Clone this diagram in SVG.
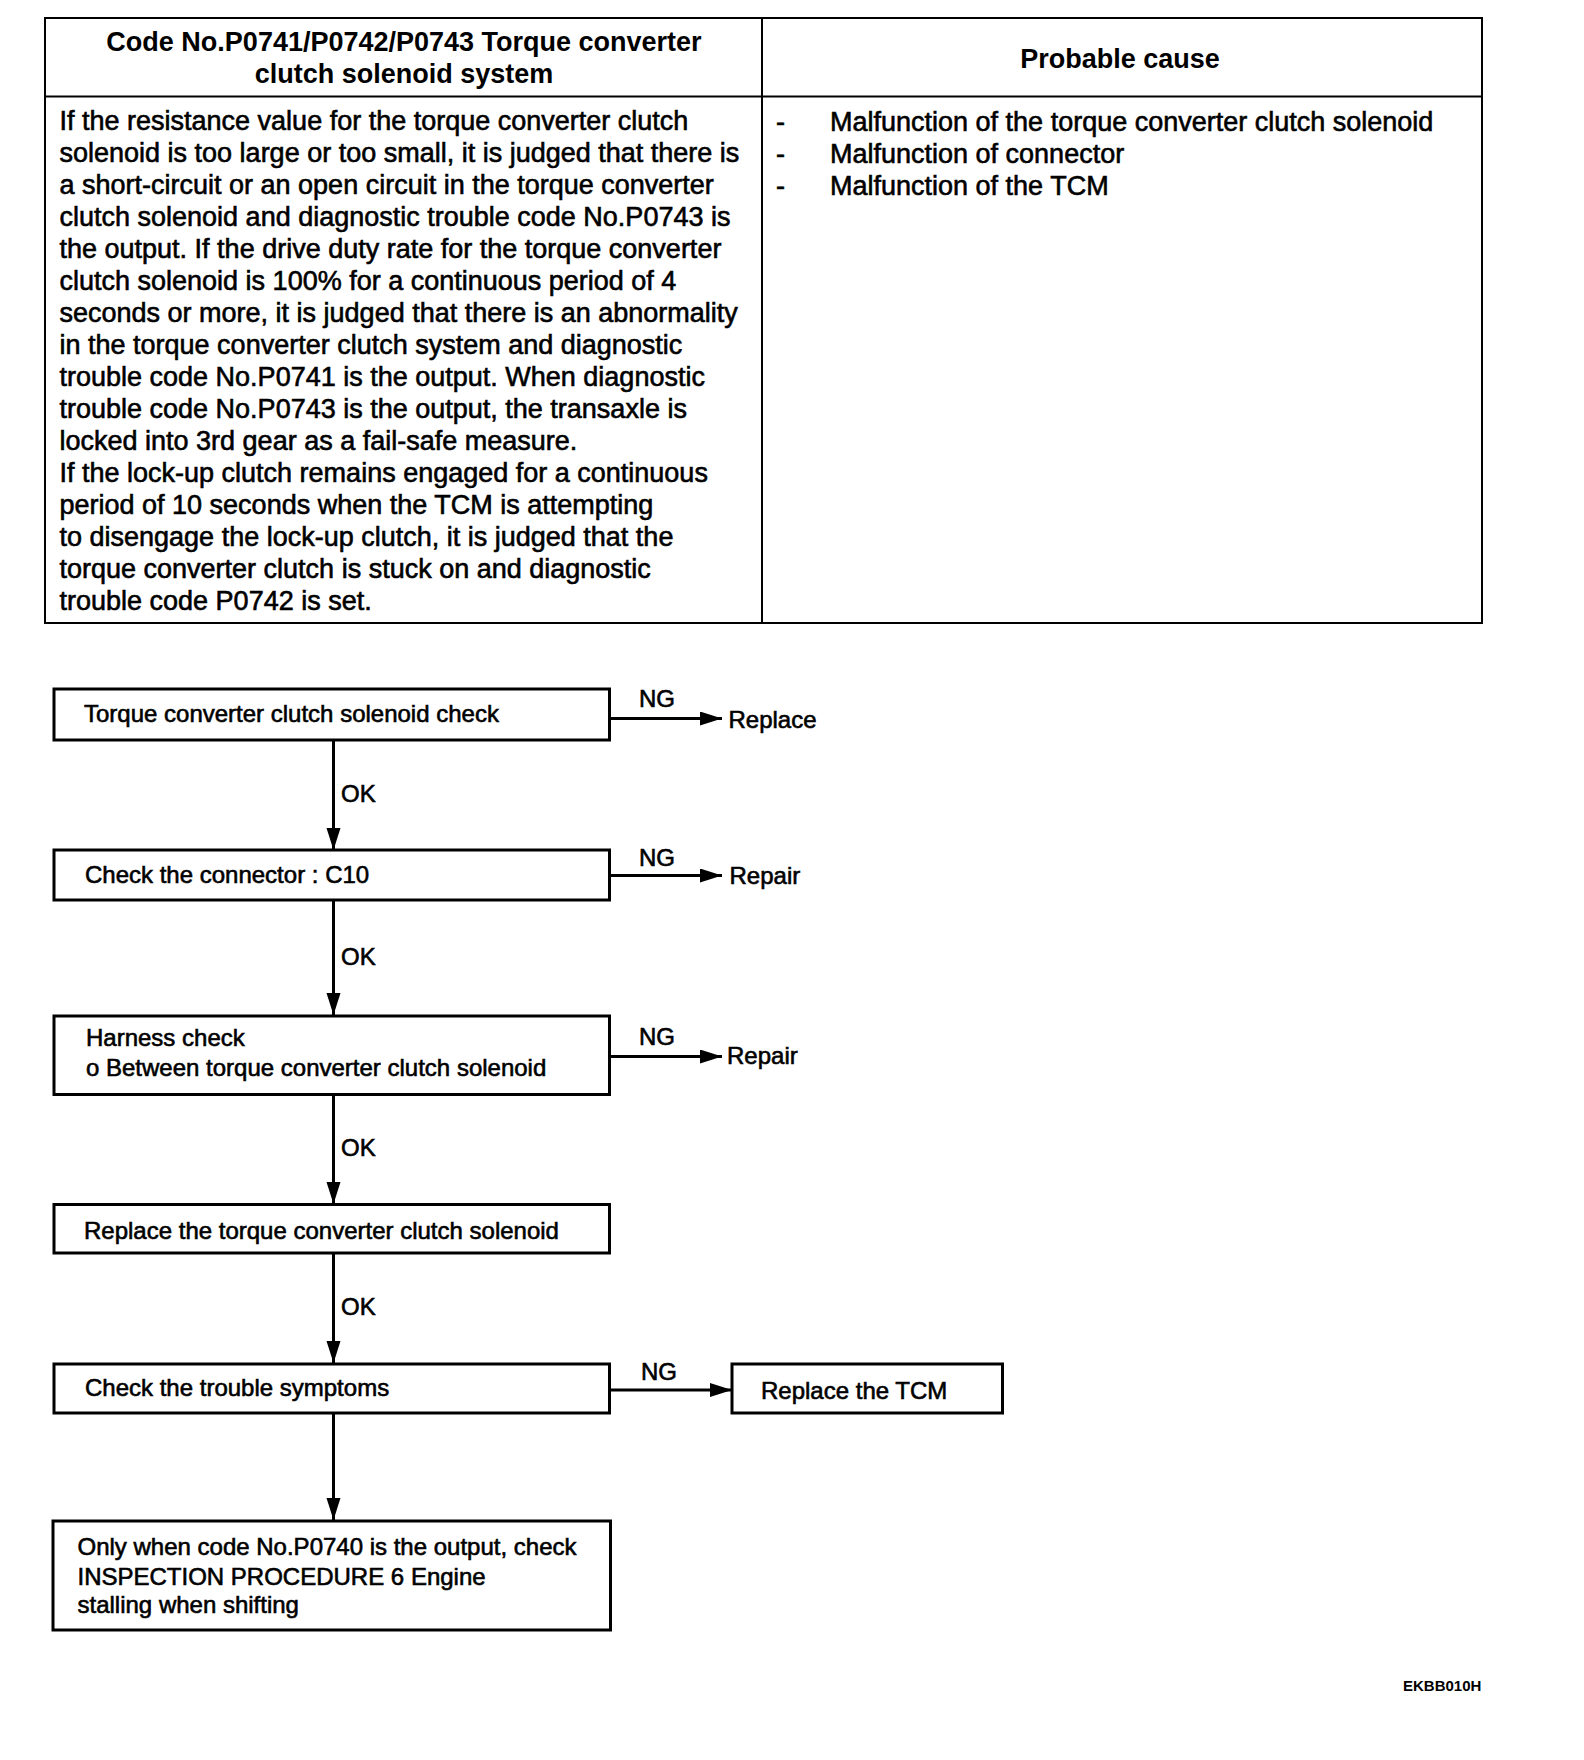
<svg xmlns="http://www.w3.org/2000/svg" width="1584" height="1760" viewBox="0 0 1584 1760">
<style>
text{font-family:"Liberation Sans",Arial,sans-serif;fill:#000}
.hd{font-size:27px;font-weight:bold}
.bd{font-size:27px;stroke:#000;stroke-width:0.6}
.bx{font-size:24px;stroke:#000;stroke-width:0.6}
.lb{font-size:24px;stroke:#000;stroke-width:0.6}
.code{font-size:15px;font-weight:bold}
.tbl{fill:none;stroke:#000;stroke-width:2}
.box{fill:#fff;stroke:#000;stroke-width:3}
.con{fill:none;stroke:#000;stroke-width:3}
</style>
<defs>
<marker id="ah" markerUnits="userSpaceOnUse" markerWidth="24" markerHeight="16" refX="22" refY="7" orient="auto">
<path d="M0,0 L22,7 L0,14 Z" fill="#000"/>
</marker>
</defs>
<rect width="1584" height="1760" fill="#fff"/>
<g id="table">
<rect class="tbl" x="45" y="18" width="1437" height="605"/>
<line class="tbl" x1="45" y1="96.5" x2="1482" y2="96.5"/>
<line class="tbl" x1="762" y1="18" x2="762" y2="623"/>
<text class="hd" x="404" y="51" text-anchor="middle">Code No.P0741/P0742/P0743 Torque converter</text>
<text class="hd" x="404" y="83" text-anchor="middle">clutch solenoid system</text>
<text class="hd" x="1120" y="68" text-anchor="middle">Probable  cause</text>
<text class="bd" x="59.5" y="130">If the resistance value for the torque converter clutch</text>
<text class="bd" x="59.5" y="162">solenoid is too large or too small, it is judged that there is</text>
<text class="bd" x="59.5" y="194">a short-circuit or an open circuit in the torque converter</text>
<text class="bd" x="59.5" y="226">clutch solenoid and diagnostic trouble code No.P0743 is</text>
<text class="bd" x="59.5" y="258">the output.  If the drive duty rate for the torque converter</text>
<text class="bd" x="59.5" y="290">clutch solenoid is 100% for a continuous period of 4</text>
<text class="bd" x="59.5" y="322">seconds or more, it is judged that there is an abnormality</text>
<text class="bd" x="59.5" y="354">in the torque converter clutch system and diagnostic</text>
<text class="bd" x="59.5" y="386">trouble code No.P0741 is the output.  When diagnostic</text>
<text class="bd" x="59.5" y="418">trouble code No.P0743 is the output, the transaxle is</text>
<text class="bd" x="59.5" y="450">locked into 3rd gear as a fail-safe measure.</text>
<text class="bd" x="59.5" y="482">If the lock-up clutch remains engaged for a continuous</text>
<text class="bd" x="59.5" y="514">period of 10 seconds when the TCM is attempting</text>
<text class="bd" x="59.5" y="546">to disengage the lock-up clutch, it is judged that the</text>
<text class="bd" x="59.5" y="578">torque converter clutch is stuck on and diagnostic</text>
<text class="bd" x="59.5" y="610">trouble code P0742 is set.</text>
<text class="bd" x="776" y="131">-</text>
<text class="bd" x="776" y="163">-</text>
<text class="bd" x="776" y="195">-</text>
<text class="bd" x="830" y="131">Malfunction of the torque converter clutch solenoid</text>
<text class="bd" x="830" y="163">Malfunction of connector</text>
<text class="bd" x="830" y="195">Malfunction of the TCM</text>
</g>
<g id="connectors">
<line class="con" x1="333.5" y1="740" x2="333.5" y2="850" marker-end="url(#ah)"/>
<line class="con" x1="333.5" y1="900" x2="333.5" y2="1015" marker-end="url(#ah)"/>
<line class="con" x1="333.5" y1="1094.5" x2="333.5" y2="1204" marker-end="url(#ah)"/>
<line class="con" x1="333.5" y1="1253" x2="333.5" y2="1363" marker-end="url(#ah)"/>
<line class="con" x1="333.5" y1="1413" x2="333.5" y2="1520" marker-end="url(#ah)"/>
<line class="con" x1="609.5" y1="718.5" x2="722" y2="718.5" marker-end="url(#ah)"/>
<line class="con" x1="609.5" y1="875.5" x2="722" y2="875.5" marker-end="url(#ah)"/>
<line class="con" x1="609.5" y1="1056.5" x2="722" y2="1056.5" marker-end="url(#ah)"/>
<line class="con" x1="609.5" y1="1390" x2="732" y2="1390" marker-end="url(#ah)"/>
<text class="lb" x="341" y="802">OK</text>
<text class="lb" x="341" y="965">OK</text>
<text class="lb" x="341" y="1156">OK</text>
<text class="lb" x="341" y="1315">OK</text>
<text class="lb" x="639" y="707">NG</text>
<text class="lb" x="639" y="866">NG</text>
<text class="lb" x="639" y="1045">NG</text>
<text class="lb" x="641" y="1380">NG</text>
<text class="lb" x="728.5" y="728">Replace</text>
<text class="lb" x="729.5" y="884">Repair</text>
<text class="lb" x="727" y="1064">Repair</text>
</g>
<g id="n1">
<rect class="box" x="54" y="689" width="555.5" height="51"/>
<text class="bx" x="84" y="721.5">Torque converter clutch solenoid check</text>
</g>
<g id="n2">
<rect class="box" x="54" y="850" width="555.5" height="50"/>
<text class="bx" x="85" y="883">Check the connector : C10</text>
</g>
<g id="n3">
<rect class="box" x="54" y="1016" width="555.5" height="78.5"/>
<text class="bx" x="86" y="1045.5">Harness check</text>
<text class="bx" x="86" y="1076">o Between torque converter clutch solenoid</text>
</g>
<g id="n4">
<rect class="box" x="54" y="1204.5" width="555.5" height="48.5"/>
<text class="bx" x="84" y="1238.5">Replace the torque converter clutch solenoid</text>
</g>
<g id="n5">
<rect class="box" x="54" y="1364" width="555.5" height="49"/>
<text class="bx" x="85" y="1396">Check the trouble symptoms</text>
</g>
<g id="n6">
<rect class="box" x="732" y="1364" width="270.5" height="49"/>
<text class="bx" x="761" y="1398.5">Replace the TCM</text>
</g>
<g id="n7">
<rect class="box" x="53" y="1521" width="557.5" height="109"/>
<text class="bx" x="77.5" y="1554.5">Only when code No.P0740 is the output, check</text>
<text class="bx" x="77.5" y="1584.5">INSPECTION PROCEDURE 6 Engine</text>
<text class="bx" x="77.5" y="1612.5">stalling when shifting</text>
</g>
<text class="code" x="1403" y="1691">EKBB010H</text>
</svg>
